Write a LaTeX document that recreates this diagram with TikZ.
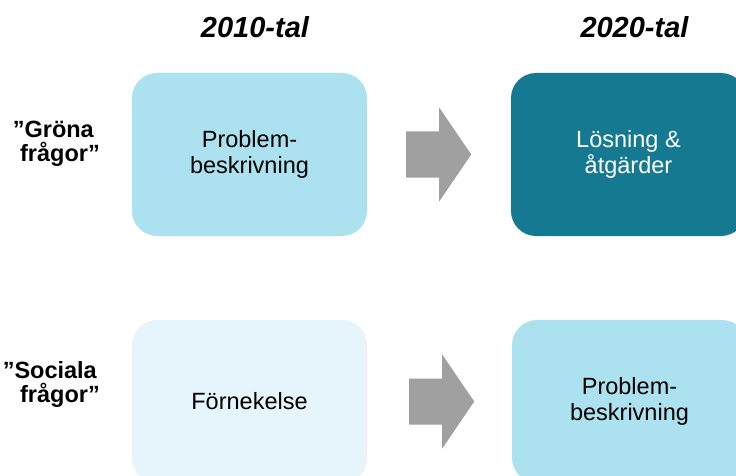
\documentclass[tikz,border=0pt]{standalone}
\usepackage{fontspec}
\setmainfont{Liberation Sans}
\definecolor{skyblue}{RGB}{172,225,239}
\definecolor{deepteal}{RGB}{21,122,145}
\definecolor{paleblue}{RGB}{229,245,251}
\definecolor{arrowgray}{RGB}{160,160,160}
\begin{document}
\begin{tikzpicture}[x=1pt,y=-1pt,
  box/.style={rounded corners=25pt, minimum width=235pt, minimum height=163pt,
    align=center, inner sep=0pt, text=black,
    font=\fontsize{23.5}{26.7}\selectfont},
  rowlabel/.style={anchor=east, align=right, inner sep=0pt,
    font=\fontsize{23.5}{24}\selectfont\bfseries},
  period/.style={anchor=base, inner sep=0pt,
    font=\fontsize{29}{32}\selectfont\bfseries\itshape},
  blockarrow/.pic={\fill[arrowgray] (0,-23) -- (33,-23) -- (33,-47) -- (65,0)
    -- (33,47) -- (33,23) -- (0,23) -- cycle;}
]
\useasboundingbox (0,0) rectangle (736,476);
\clip (0,0) rectangle (736,476);

% column headings
\node[period] (h2010) at (255,38) {2010-tal};
\node[period] (h2020) at (634.5,38) {2020-tal};

% row labels
\node[rowlabel] (green) at (100,144) {”Gröna\hspace*{6pt}\\frågor”};
\node[rowlabel] (social) at (100,384) {”Sociala\hspace*{3pt}\\frågor”};

% boxes
\node[box, fill=skyblue] (g1) at (249.5,154.5) {Problem-\\beskrivning};
\node[box, fill=deepteal, text=white] (g2) at (628.5,154.5) {Lösning \&\\åtgärder};
\node[box, fill=paleblue] (s1) at (249.5,401.5) {Förnekelse};
\node[box, fill=skyblue] (s2) at (629.5,401.5) {Problem-\\beskrivning};

% block arrows between the columns
\coordinate (ga) at ([xshift=39pt]g1.east);
\coordinate (sa) at ([xshift=42pt]s1.east);
\pic at (ga) {blockarrow};
\pic at (sa) {blockarrow};
\end{tikzpicture}
\end{document}
